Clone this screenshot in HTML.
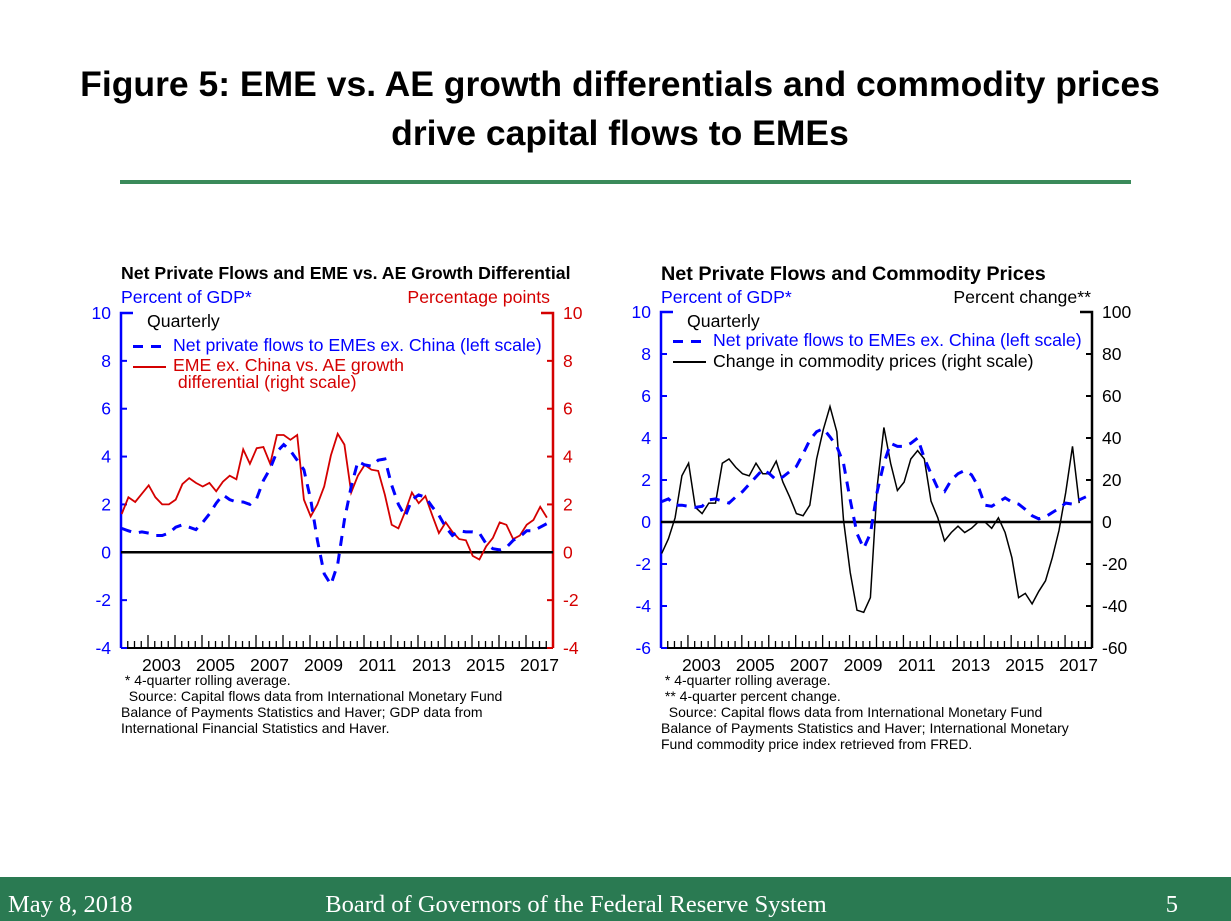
<!DOCTYPE html>
<html><head><meta charset="utf-8"><style>
html,body{margin:0;padding:0;background:#fff;width:1231px;height:921px;overflow:hidden}
svg{display:block;font-family:"Liberation Sans",sans-serif}
</style></head><body>
<svg id="s" width="1231" height="921" xmlns="http://www.w3.org/2000/svg">
<text x="620" y="96" text-anchor="middle" font-size="35.5" font-weight="bold">Figure 5: EME vs. AE growth differentials and commodity prices</text>
<text x="620" y="145" text-anchor="middle" font-size="35.5" font-weight="bold">drive capital flows to EMEs</text>
<rect x="120" y="180" width="1011" height="4" fill="#3a8a5a"/>
<g id="left"></g>
<g id="right"></g>
<rect x="0" y="877" width="1231" height="44" fill="#2a7a52"/>
<text x="8" y="912" fill="#fff" font-size="24.5" font-family="Liberation Serif,serif">May 8, 2018</text>
<text x="576" y="912" fill="#fff" font-size="24.5" text-anchor="middle" font-family="Liberation Serif,serif">Board of Governors of the Federal Reserve System</text>
<text x="1178" y="912" fill="#fff" font-size="24.5" text-anchor="end" font-family="Liberation Serif,serif">5</text>
</svg>
<script>
const yearLabels=["2003","2005","2007","2009","2011","2013","2015","2017"];
const leftTicks=[10,8,6,4,2,0,-2,-4];
const rightTicks1=[10,8,6,4,2,0,-2,-4];
const leftTicks2=[10,8,6,4,2,0,-2,-4,-6];
const rightTicks2=[100,80,60,40,20,0,-20,-40,-60];
const flowsA=[1.0,0.9,0.8,0.85,0.8,0.7,0.7,0.8,1.05,1.15,1.05,0.95,1.25,1.6,2.05,2.4,2.2,2.1,2.1,2.0,2.25,3.0,3.5,4.2,4.5,4.25,3.85,3.45,2.2,0.5,-0.9,-1.35,-0.5,1.35,2.75,3.8,3.65,3.6,3.85,3.9,2.8,2.0,1.5,2.2,2.4,2.3,1.9,1.55,1.05,0.7,0.9,0.85,0.85,0.8,0.35,0.15,0.1,0.2,0.5,0.65,0.9,0.9,1.05,1.2];
const growthDiff=[1.6,2.3,2.1,2.45,2.8,2.3,2.0,2.0,2.2,2.85,3.1,2.9,2.75,2.9,2.55,2.95,3.2,3.05,4.3,3.7,4.35,4.4,3.7,4.9,4.9,4.7,4.9,2.2,1.5,2.0,2.75,4.05,4.95,4.5,2.5,3.2,3.65,3.45,3.4,2.4,1.15,1.0,1.7,2.5,2.05,2.35,1.55,0.8,1.25,0.85,0.55,0.5,-0.15,-0.3,0.25,0.6,1.25,1.15,0.55,0.7,1.15,1.35,1.9,1.45];
const flowsB=[0.97,1.1,0.8,0.8,0.75,0.7,0.75,1.05,1.1,1.0,0.9,1.2,1.45,1.8,2.15,2.5,2.3,2.0,2.15,2.4,2.65,3.25,3.9,4.3,4.45,4.05,3.6,2.8,1.05,-0.55,-1.25,-0.55,1.45,2.8,3.75,3.6,3.6,3.75,4.0,3.05,2.3,1.6,1.45,2.0,2.3,2.45,2.25,1.7,0.8,0.75,0.95,1.15,0.95,0.85,0.6,0.3,0.15,0.25,0.45,0.65,0.9,0.85,1.05,1.2];
const commodity=[-15,-8,2,22,28,7,4,9,9,28,30,26,23,22,28,23,23,29,19,12,4,3,8,30,44,55,43,1,-24,-42,-43,-36,17,45,28,15,19,30,34,30,10,2,-9,-5,-2,-5,-3,0,0,-3,2,-5,-17,-36,-34,-39,-33,-28,-17,-4,14,36,9];
const NS="http://www.w3.org/2000/svg";
function mk(p,t,a){const e=document.createElementNS(NS,t);for(const k in a)e.setAttribute(k,a[k]);p.appendChild(e);return e;}
function txt(p,x,y,s,a){const e=mk(p,'text',Object.assign({x:x,y:y,'font-size':17.5},a||{}));e.textContent=s;return e;}
function chart(g,o){
  const x0=o.x0,x1=o.x1,yT=o.yT,yB=o.yB;
  const xs=q=>x0+(x1-x0)*q/64;
  const yL=v=>yT+(o.lmax-v)/(o.lmax-o.lmin)*(yB-yT);
  const yR=v=>yT+(o.rmax-v)/(o.rmax-o.rmin)*(yB-yT);
  let e;
  e=mk(g,'path',{d:`M${x0+12},${yT} H${x0} V${yB}`,stroke:'#0000ff','stroke-width':2.5,fill:'none'});
  
  e=mk(g,'path',{d:`M${x1-12},${yT} H${x1} V${yB}`,stroke:o.rc,'stroke-width':2.5,fill:'none'});
  
  e=mk(g,'line',{x1:x0,x2:x1,y1:yB,y2:yB,stroke:'#000','stroke-width':2});
  
  o.lt.forEach(v=>{const y=yL(v);
    e=mk(g,'line',{x1:x0,x2:x0+6,y1:y,y2:y,stroke:'#0000ff','stroke-width':2});
    
    e=txt(g,x0-10,y+6,String(v),{fill:'#0000ff','text-anchor':'end'});
    });
  o.rt.forEach(v=>{const y=yR(v);
    e=mk(g,'line',{x1:x1-6,x2:x1,y1:y,y2:y,stroke:o.rc,'stroke-width':2});
    
    e=txt(g,x1+10,y+6,String(v),{fill:o.rc});
    });
  for(let q=1;q<64;q++){const x=xs(q);const L=q%4==0?13:7;
    e=mk(g,'line',{x1:x,x2:x,y1:yB,y2:yB-L,stroke:'#000','stroke-width':1.3});
    }
  yearLabels.forEach((s,i)=>{const x=xs(4*(1+2*i)+2);
    e=txt(g,x,yB+23,s,{'text-anchor':'middle'});
    });
  e=mk(g,'line',{x1:x0,x2:x1,y1:yL(0),y2:yL(0),stroke:'#000','stroke-width':2.5});
  
  const pts=(arr,f)=>arr.map((v,i)=>(xs(i+0.1)).toFixed(1)+','+f(v).toFixed(1)).join(' ');
  e=mk(g,'polyline',{points:pts(o.s2,o.s2r?yR:yL),fill:'none',stroke:o.rc,'stroke-width':o.rc=='#000'?1.5:1.8});
  
  e=mk(g,'polyline',{points:pts(o.s1,yL),fill:'none',stroke:'#0000ff','stroke-width':3,'stroke-dasharray':'10,8'});
  
}
const L=document.getElementById('left'),R=document.getElementById('right');
chart(L,{x0:121,x1:553,yT:313,yB:648,lmax:10,lmin:-4,rmax:10,rmin:-4,lt:leftTicks,rt:rightTicks1,rc:'#d40000',s1:flowsA,s2:growthDiff,s2r:true,s2name:'growth-differential-line'});
chart(R,{x0:661,x1:1092,yT:312,yB:648,lmax:10,lmin:-6,rmax:100,rmin:-60,lt:leftTicks2,rt:rightTicks2,rc:'#000',s1:flowsB,s2:commodity,s2r:true,s2name:'commodity-price-line'});
</script>
<div style="position:absolute;left:0;top:0;width:1231px;height:921px;pointer-events:none;font-family:'Liberation Sans',sans-serif">
<div style="position:absolute;left:121px;top:263px;font-size:17.7px;font-weight:bold;white-space:nowrap">Net Private Flows and EME vs. AE Growth Differential</div>
<div style="position:absolute;left:121px;top:287px;font-size:17.7px;color:#0000ff">Percent of GDP*</div>
<div style="position:absolute;right:681px;top:287px;font-size:17.7px;color:#d40000">Percentage points</div>
<div style="position:absolute;left:147px;top:311px;font-size:17.7px">Quarterly</div>
<div style="position:absolute;left:133px;top:345px;width:33px;height:3px;background:repeating-linear-gradient(90deg,#00f 0 10px,transparent 10px 18px)"></div>
<div style="position:absolute;left:173px;top:335px;font-size:17.7px;color:#0000ff;white-space:nowrap">Net private flows to EMEs ex. China (left scale)</div>
<div style="position:absolute;left:133px;top:366px;width:33px;height:2px;background:#d40000"></div>
<div style="position:absolute;left:173px;top:357px;font-size:17.7px;color:#d40000;line-height:17px">EME ex. China vs. AE growth<br>&nbsp;differential (right scale)</div>
<div style="position:absolute;left:121px;top:672px;font-size:14px;line-height:16px;white-space:nowrap">&nbsp;* 4-quarter rolling average.<br>&nbsp;&nbsp;Source: Capital flows data from International Monetary Fund<br>Balance of Payments Statistics and Haver; GDP data from<br>International Financial Statistics and Haver.</div>
<div style="position:absolute;left:661px;top:263px;font-size:19.8px;font-weight:bold;white-space:nowrap">Net Private Flows and Commodity Prices</div>
<div style="position:absolute;left:661px;top:287px;font-size:17.7px;color:#0000ff">Percent of GDP*</div>
<div style="position:absolute;right:140px;top:287px;font-size:17.7px">Percent change**</div>
<div style="position:absolute;left:687px;top:311px;font-size:17.7px">Quarterly</div>
<div style="position:absolute;left:673px;top:340px;width:33px;height:3px;background:repeating-linear-gradient(90deg,#00f 0 10px,transparent 10px 18px)"></div>
<div style="position:absolute;left:713px;top:330px;font-size:17.7px;color:#0000ff;white-space:nowrap">Net private flows to EMEs ex. China (left scale)</div>
<div style="position:absolute;left:673px;top:361px;width:33px;height:1.5px;background:#000"></div>
<div style="position:absolute;left:713px;top:351px;font-size:17.7px;white-space:nowrap">Change in commodity prices (right scale)</div>
<div style="position:absolute;left:661px;top:672px;font-size:14px;line-height:16px;white-space:nowrap">&nbsp;* 4-quarter rolling average.<br>&nbsp;** 4-quarter percent change.<br>&nbsp;&nbsp;Source: Capital flows data from International Monetary Fund<br>Balance of Payments Statistics and Haver; International Monetary<br>Fund commodity price index retrieved from FRED.</div>
</div>
</body></html>
